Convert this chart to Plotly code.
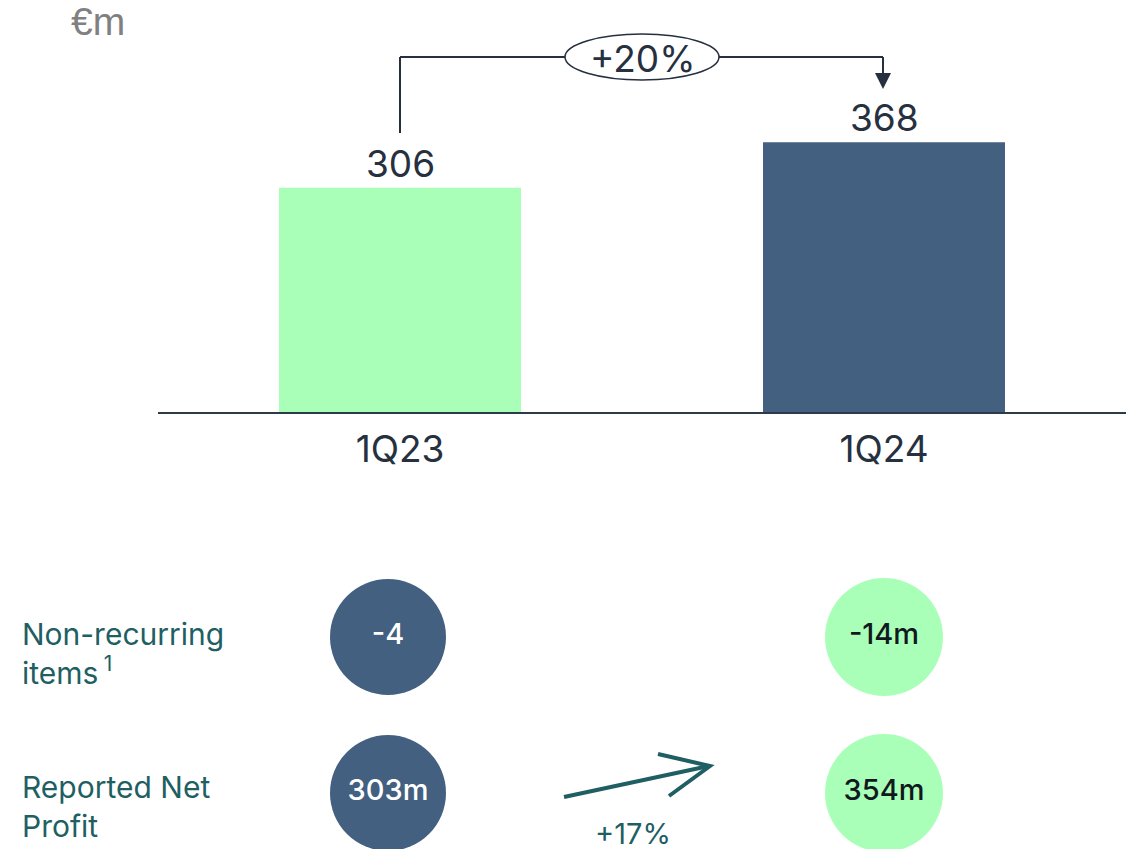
import plotly.graph_objects as go

# ---- data ----
quarters = ["1Q23", "1Q24"]
adj_net_profit = [306, 368]
growth_label = "+20%"
rows = ["Reported Net Profit", "Non-recurring items"]
row_labels = ["Reported Net<br>Profit", "Non-recurring<br>items\u2009<sup>1</sup>"]
bubble_1q23 = ["303m", "-4"]
bubble_1q24 = ["354m", "-14m"]
reported_growth = "+17%"
unit_label = "€m"

# ---- style ----
W, H = 1135, 849
GREEN = "#A9FFB7"
BLUE = "#436080"
DARK = "#26303F"
TEAL = "#1F5F63"
FONT = "Inter"


def px(x):
    return x / W


def py(y):
    return 1 - y / H


fig = go.Figure()

fig.add_trace(go.Bar(
    x=quarters, y=adj_net_profit, width=0.5,
    marker=dict(color=[GREEN, BLUE], line=dict(width=0)),
    xaxis="x", yaxis="y", showlegend=False, hoverinfo="x+y",
))

# value labels
for q, v in zip(quarters, adj_net_profit):
    fig.add_annotation(x=q, y=v, xref="x", yref="y", text=str(v), showarrow=False,
                       yanchor="bottom", yshift=0,
                       font=dict(family=FONT, size=37, color=DARK))

# bubbles
fig.add_trace(go.Scatter(
    x=[quarters[0]] * 2, y=rows, mode="markers+text", text=bubble_1q23,
    textposition="middle center",
    textfont=dict(family=FONT, size=29, color="white", weight=500),
    marker=dict(size=116, color=BLUE, line=dict(width=0)),
    xaxis="x2", yaxis="y2", showlegend=False, cliponaxis=False, hoverinfo="text",
))
fig.add_trace(go.Scatter(
    x=[quarters[1]] * 2, y=rows, mode="markers+text", text=bubble_1q24,
    textposition="middle center",
    textfont=dict(family=FONT, size=29, color="#111820", weight=500),
    marker=dict(size=118, color=GREEN, line=dict(width=0)),
    xaxis="x2", yaxis="y2", showlegend=False, cliponaxis=False, hoverinfo="text",
))

shapes = []
# bracket
line_style = dict(color=DARK, width=2)
shapes.append(dict(type="line", xref="paper", yref="paper", x0=px(400), x1=px(400),
                   y0=py(133), y1=py(57), line=line_style))
shapes.append(dict(type="line", xref="paper", yref="paper", x0=px(400), x1=px(883),
                   y0=py(57), y1=py(57), line=line_style))
shapes.append(dict(type="line", xref="paper", yref="paper", x0=px(883), x1=px(883),
                   y0=py(57), y1=py(74), line=line_style))
shapes.append(dict(type="path", xref="paper", yref="paper",
                   path=f"M {px(875)} {py(73)} L {px(891)} {py(73)} L {px(883)} {py(89)} Z",
                   fillcolor=DARK, line=dict(width=0)))
shapes.append(dict(type="circle", xref="paper", yref="paper", x0=px(565), x1=px(719),
                   y0=py(80), y1=py(34), fillcolor="white",
                   line=dict(color=DARK, width=1.5)))
# growth arrow
arrow_line = dict(color=TEAL, width=4)
shapes.append(dict(type="path", xref="paper", yref="paper",
                   path=f"M {px(564)} {py(797)} L {px(709)} {py(766)}", line=arrow_line))
shapes.append(dict(type="path", xref="paper", yref="paper",
                   path=f"M {px(658)} {py(754)} L {px(710)} {py(766)} L {px(669)} {py(796)}",
                   line=arrow_line))

annotations = [
    dict(text=growth_label, x=px(642), y=py(58), xref="paper", yref="paper",
         xanchor="center", yanchor="middle",
         showarrow=False, font=dict(family=FONT, size=37, color=DARK)),
    dict(text=unit_label, x=px(69), y=py(22), xref="paper", yref="paper",
         xanchor="left", yanchor="middle",
         showarrow=False, font=dict(family="Liberation Sans", size=39, color="#808080")),
    dict(text=reported_growth, x=px(633), y=py(833), xref="paper", yref="paper",
         xanchor="center", yanchor="middle",
         showarrow=False, font=dict(family=FONT, size=29, color=TEAL)),
    dict(text=row_labels[1], x=px(20), y=py(653), xref="paper", yref="paper",
         xanchor="left", yanchor="middle", align="left", showarrow=False,
         font=dict(family=FONT, size=30, color=TEAL)),
    dict(text=row_labels[0], x=px(20), y=py(806), xref="paper", yref="paper",
         xanchor="left", yanchor="middle", align="left", showarrow=False,
         font=dict(family=FONT, size=30, color=TEAL)),
]
fig.layout.annotations = list(fig.layout.annotations) + annotations

fig.update_layout(
    width=W, height=H, margin=dict(l=0, r=0, t=0, b=0),
    paper_bgcolor="white", plot_bgcolor="rgba(0,0,0,0)",
    shapes=shapes,
    xaxis=dict(domain=[px(158), px(1126)], range=[-0.5, 1.5], type="category",
               categoryorder="array", categoryarray=quarters,
               showline=True, linecolor="#2D3A4A", linewidth=2, ticks="",
               ticklabelstandoff=4, showgrid=False, zeroline=False,
               tickfont=dict(family=FONT, size=37, color=DARK), anchor="y",
               automargin=False, fixedrange=True),
    yaxis=dict(domain=[py(412), py(20)], range=[0, 535], visible=False,
               showgrid=False, zeroline=False, fixedrange=True),
    xaxis2=dict(domain=[px(140), px(1132)], range=[-0.5, 1.5], type="category",
                categoryorder="array", categoryarray=quarters, visible=False,
                anchor="y2", fixedrange=True),
    yaxis2=dict(domain=[0, 0.4], range=[-0.359, 1.818], type="category",
                categoryorder="array", categoryarray=rows, visible=False,
                anchor="x2", fixedrange=True),
)

fig.write_html("out.html", config={"displayModeBar": False},
               post_script="document.body.style.margin='0px';")
